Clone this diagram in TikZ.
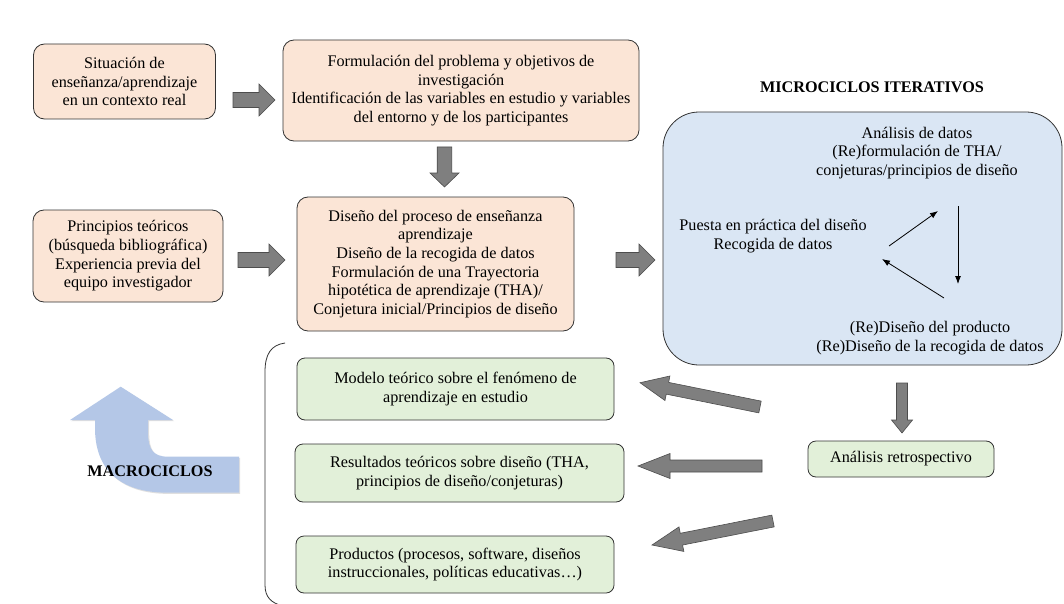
\documentclass[tikz,border=0pt]{standalone}
\usepackage{fontspec}
\setmainfont{Liberation Serif}
\usetikzlibrary{calc,arrows.meta,shadows}
\definecolor{peach}{HTML}{FBE5D6}
\definecolor{mint}{HTML}{E2F0D9}
\definecolor{skyb}{HTML}{DAE6F4}
\definecolor{arrgray}{HTML}{7F7F7F}
\definecolor{arredge}{HTML}{4D4D4D}
\definecolor{macro}{HTML}{B4C7E7}
\definecolor{edge}{HTML}{333333}
% block arrow: #1 tail, #2 tip, #3 shaft half width, #4 head half width, #5 head length
\newcommand{\blockarrow}[5]{%
  \coordinate (bah) at ($(#2)!#5!(#1)$);
  \draw[garrow] ($(#1)!#3!90:(#2)$) -- ($(bah)!#3!-90:(#1)$) -- ($(bah)!#4!-90:(#1)$)
    -- (#2) -- ($(bah)!#4!90:(#1)$) -- ($(bah)!#3!90:(#1)$) -- ($(#1)!#3!-90:(#2)$) -- cycle;
}
\begin{document}
\begin{tikzpicture}[x=1pt,y=-1pt,
  every node/.style={font=\fontsize{16.2}{18.7}\selectfont},
  box/.style={draw=edge, line width=0.8pt, align=center, inner sep=0pt},
  pbox/.style={box, fill=peach, rounded corners=11pt},
  gbox/.style={box, fill=mint, rounded corners=8pt},
  garrow/.style={fill=arrgray, draw=arredge, line width=0.6pt, line join=miter},
  thin/.style={line width=0.8pt, -{Latex[length=8pt,width=6pt]}},
  ttl/.style={font=\fontsize{16.2}{18.7}\selectfont\bfseries}]
\useasboundingbox[fill=white] (0,0) rectangle (1064,604);

% top boxes
\node[pbox, minimum width=182pt, minimum height=75pt] (sit) at (124.5,81.5)
  {Situación de\\enseñanza/aprendizaje\\en un contexto real};
\node[pbox, minimum width=356pt, minimum height=101pt] (form) at (461,90.5)
  {Formulación del problema y objetivos de\\investigación\\Identificación de las variables en estudio y variables\\del entorno y de los participantes};
\node[pbox, minimum width=190pt, minimum height=92pt] (prin) at (128,256)
  {Principios teóricos\\(búsqueda bibliográfica)\\Experiencia previa del\\equipo investigador};
\node[pbox, minimum width=277pt, minimum height=134pt] (dis) at (435.5,264)
  {Diseño del proceso de enseñanza\\aprendizaje\\Diseño de la recogida de datos\\Formulación de una Trayectoria\\hipotética de aprendizaje (THA)/\\Conjetura inicial/Principios de diseño};

% microciclos
\node[ttl] (micro) at (872,87) {MICROCICLOS ITERATIVOS};
\node[box, fill=skyb, rounded corners=36pt, minimum width=399pt, minimum height=253pt] (blue) at (862.5,238.5) {};
\node[align=center] (ana) at (917,153) {Análisis de datos\\(Re)formulación de THA/\\conjeturas/principios de diseño};
\node[align=center] (pue) at (773,236) {Puesta en práctica del diseño\\Recogida de datos};
\node[align=center] (red) at (930,338) {(Re)Diseño del producto\\(Re)Diseño de la recogida de datos};
\coordinate (t1s) at (889,246); \coordinate (t1e) at (938,211);
\coordinate (t2s) at (958,206); \coordinate (t2e) at (958,284);
\coordinate (t3s) at (944,298); \coordinate (t3e) at (882,259);
\draw[thin] (t1s) -- (t1e);
\draw[thin] (t2s) -- (t2e);
\draw[thin] (t3s) -- (t3e);

% green boxes
\node[gbox, minimum width=317pt, minimum height=62pt] (mod) at (455.5,389)
  {Modelo teórico sobre el fenómeno de\\aprendizaje en estudio};
\node[gbox, minimum width=329pt, minimum height=58pt] (res) at (459.5,473)
  {Resultados teóricos sobre diseño (THA,\\principios de diseño/conjeturas)};
\node[gbox, minimum width=318pt, minimum height=57pt] (prod) at (455,564.5)
  {Productos (procesos, software, diseños\\instruccionales, políticas educativas…)};
\node[gbox, minimum width=186pt, minimum height=36pt] (retro) at (901,459)
  {Análisis retrospectivo};

% gray block arrows
\coordinate (a1s) at (233,100);  \coordinate (a1e) at (275,100);
\coordinate (a2s) at (444.5,147);  \coordinate (a2e) at (444.5,187);
\coordinate (a3s) at (238,260);  \coordinate (a3e) at (285,260);
\coordinate (a4s) at (616,260);  \coordinate (a4e) at (655,260);
\coordinate (a5s) at (902,383);  \coordinate (a5e) at (902,433);
\coordinate (l1s) at (760,407);  \coordinate (l1e) at (640,382.7);
\coordinate (l2s) at (762,466);  \coordinate (l2e) at (638,466);
\coordinate (l3s) at (773,521);  \coordinate (l3e) at (652,545);
\blockarrow{a1s}{a1e}{7.5pt}{16pt}{16pt}
\blockarrow{a2s}{a2e}{7.3pt}{14.5pt}{14pt}
\blockarrow{a3s}{a3e}{7.5pt}{16pt}{16pt}
\blockarrow{a4s}{a4e}{7.5pt}{16pt}{16pt}
\blockarrow{a5s}{a5e}{5.5pt}{10.5pt}{13pt}
\blockarrow{l1s}{l1e}{6pt}{12.5pt}{28pt}
\blockarrow{l2s}{l2e}{6pt}{12.5pt}{32pt}
\blockarrow{l3s}{l3e}{6pt}{12.5pt}{30pt}

% bracket
\draw[edge, line width=0.8pt] (285,343) .. controls (271,345) and (265,354) .. (265,372)
  -- (265,585) .. controls (265,597) and (271,603) .. (283,606);

% macrociclos curved arrow
\fill[macro, drop shadow={opacity=0.25, shadow xshift=1.2pt, shadow yshift=-1.2pt}]
  (120.7,386.7) -- (173,420) -- (148,420) -- (148,432)
  .. controls (148,449) and (153,456.7) .. (168,456.7) -- (239,456.7) -- (239,492.7)
  -- (168,492.7) .. controls (118,492.7) and (95,468) .. (95,428) -- (95,420) -- (70,420) -- cycle;
\node[ttl] (macrot) at (150,471.5) {MACROCICLOS};
\end{tikzpicture}
\end{document}
